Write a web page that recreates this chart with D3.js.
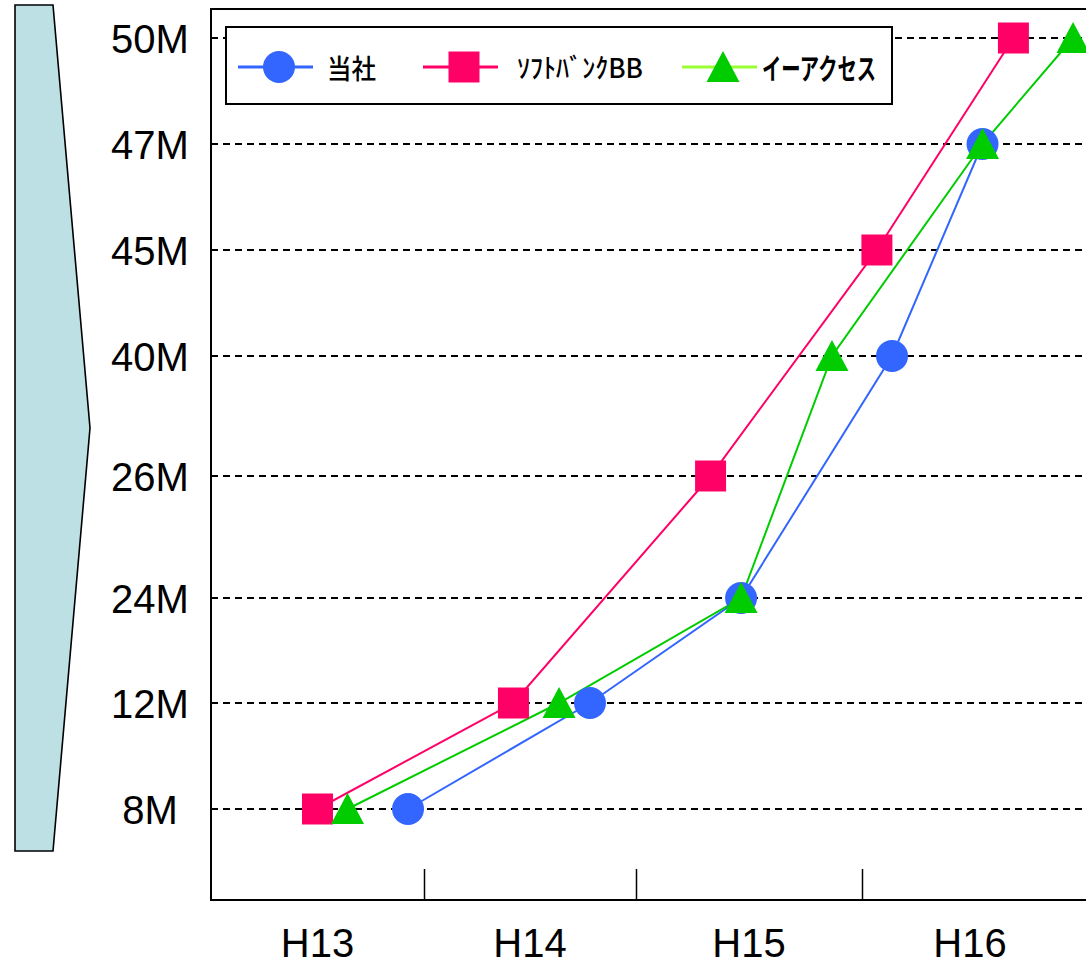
<!DOCTYPE html>
<html>
<head>
<meta charset="utf-8">
<script src="https://cdn.jsdelivr.net/npm/d3@7"></script>
<style>
  html, body { margin: 0; padding: 0; background: #fff; }
  svg { display: block; }
</style>
</head>
<body>
<svg id="chart" width="1086" height="966"></svg>
<script>
// ---- data ----
const categories = ['H13', 'H14', 'H15', 'H16'];
const categoryStart = [13, 14, 15, 16];
const yTickLabels = ['8M', '12M', '24M', '26M', '40M', '45M', '47M', '50M'];
const seriesNames = ['当社', 'ｿﾌﾄﾊﾞﾝｸBB', 'イーアクセス'];

// x: fiscal-year position, y: speed label
const tosyaX = [13.925, 14.783, 15.465, 16.139, 16.558];
const tosyaY = ['8M', '12M', '24M', '40M', '47M'];
const softbankX = [13.50, 14.422, 15.330, 16.069, 16.701];
const softbankY = ['8M', '12M', '26M', '45M', '50M'];
const eaccessX = [13.641, 14.637, 15.465, 15.867, 16.558, 16.977];
const eaccessY = ['8M', '12M', '24M', '40M', '47M', '50M'];

// ---- layout ----
const plotLeft = 211, plotTop = 9, plotBottom = 900, plotRight = 1100;
const yBottom = 809;
const rowGaps = [106, 105, 122, 120, 106, 106, 106];
const bandEdges = [211, 424, 636, 862, 1078];

const svg = d3.select('#chart');

// piecewise y: label -> index -> pixel
const yIndex = d3.scalePoint().domain(yTickLabels).range([0, yTickLabels.length - 1]);
const yRows = [yBottom];
rowGaps.forEach(g => yRows.push(yRows[yRows.length - 1] - g));
const yPix = d3.scaleLinear().domain(d3.range(yTickLabels.length)).range(yRows);
const y = lbl => yPix(yIndex(lbl));

const x = d3.scaleLinear().domain([13, 14, 15, 16, 17]).range(bandEdges);

// left decorative arrow
svg.append('polygon')
  .attr('points', [[15, 5], [53, 5], [90, 428], [53, 851], [15, 851]].map(p => p.join(',')).join(' '))
  .attr('fill', '#bce0e3')
  .attr('stroke', '#000')
  .attr('stroke-width', 1.6);

// grid lines
svg.append('g').selectAll('line').data(yTickLabels).join('line')
  .attr('x1', plotLeft).attr('x2', plotRight)
  .attr('y1', d => y(d)).attr('y2', d => y(d))
  .attr('stroke', '#000').attr('stroke-width', 2)
  .attr('stroke-dasharray', '7,5');

// y labels
svg.append('g').selectAll('text').data(yTickLabels).join('text')
  .attr('x', 150).attr('y', d => y(d) + 15)
  .attr('text-anchor', 'middle')
  .attr('font-family', 'Arial, "Liberation Sans", sans-serif')
  .attr('font-size', 40)
  .text(d => d);

// x axis with inner ticks between categories
const xAxis = d3.axisBottom(x)
  .tickValues(categoryStart.slice(1))
  .tickSizeInner(-31)
  .tickSizeOuter(0)
  .tickFormat('');
const gx = svg.append('g').attr('transform', `translate(0,${plotBottom})`).call(xAxis);
gx.select('.domain').remove();
gx.selectAll('.tick line').attr('stroke', '#000').attr('stroke-width', 1.5);

svg.append('g').selectAll('text').data(categories).join('text')
  .attr('x', (d, i) => x(categoryStart[i] + 0.5))
  .attr('y', 957)
  .attr('text-anchor', 'middle')
  .attr('font-family', 'Arial, "Liberation Sans", sans-serif')
  .attr('font-size', 40)
  .text(d => d);

// frame
svg.append('path')
  .attr('d', `M${plotRight},${plotTop}H${plotLeft}V${plotBottom}H${plotRight}`)
  .attr('fill', 'none').attr('stroke', '#000').attr('stroke-width', 2);

// series
const series = [
  { name: seriesNames[0], xs: tosyaX, ys: tosyaY, color: '#3366ff', legendLine: '#3366ff', shape: 'circle' },
  { name: seriesNames[1], xs: softbankX, ys: softbankY, color: '#ff0066', legendLine: '#ff0066', shape: 'square' },
  { name: seriesNames[2], xs: eaccessX, ys: eaccessY, color: '#00cc00', legendLine: '#99ff33', shape: 'triangle' }
];

const symbolPath = {
  circle: d3.symbol(d3.symbolCircle, Math.PI * 16 * 16)(),
  square: d3.symbol(d3.symbolSquare, 31 * 31)(),
  triangle: 'M0,-16L16.5,15L-16.5,15Z'
};

const line = d3.line().x(d => x(d[0])).y(d => y(d[1]));

series.forEach(s => {
  const pts = s.xs.map((v, i) => [v, s.ys[i]]);
  svg.append('path').datum(pts)
    .attr('d', line)
    .attr('fill', 'none').attr('stroke', s.color).attr('stroke-width', 2);
});
series.forEach(s => {
  const pts = s.xs.map((v, i) => [v, s.ys[i]]);
  svg.append('g').selectAll('path').data(pts).join('path')
    .attr('transform', d => `translate(${x(d[0])},${y(d[1])})`)
    .attr('d', symbolPath[s.shape])
    .attr('fill', s.color);
});

// legend
const legend = svg.append('g');
legend.append('rect')
  .attr('x', 226).attr('y', 27).attr('width', 666).attr('height', 77)
  .attr('fill', '#fff').attr('stroke', '#000').attr('stroke-width', 2);

const legendItems = [
  { lineX: 238, textX: 327, textW: 49, size: 27, weight: 500, base: 79 },
  { lineX: 423, textX: 517, textW: 126, size: 27, weight: 500, base: 78 },
  { lineX: 682, textX: 762, textW: 114, size: 29, weight: 'bold', base: 80 }
];
const ly = 67;
series.forEach((s, i) => {
  const it = legendItems[i];
  const g = legend.append('g');
  g.append('line')
    .attr('x1', it.lineX).attr('x2', it.lineX + 75)
    .attr('y1', ly).attr('y2', ly)
    .attr('stroke', s.legendLine).attr('stroke-width', 3);
  g.append('path')
    .attr('transform', `translate(${it.lineX + 41},${ly})`)
    .attr('d', symbolPath[s.shape])
    .attr('fill', s.color);
  g.append('text')
    .attr('x', it.textX).attr('y', it.base)
    .attr('font-family', '"Noto Sans CJK JP", sans-serif')
    .attr('font-size', it.size)
    .attr('font-weight', it.weight)
    .attr('textLength', it.textW)
    .attr('lengthAdjust', 'spacingAndGlyphs')
    .text(s.name);
});
</script>
</body>
</html>
